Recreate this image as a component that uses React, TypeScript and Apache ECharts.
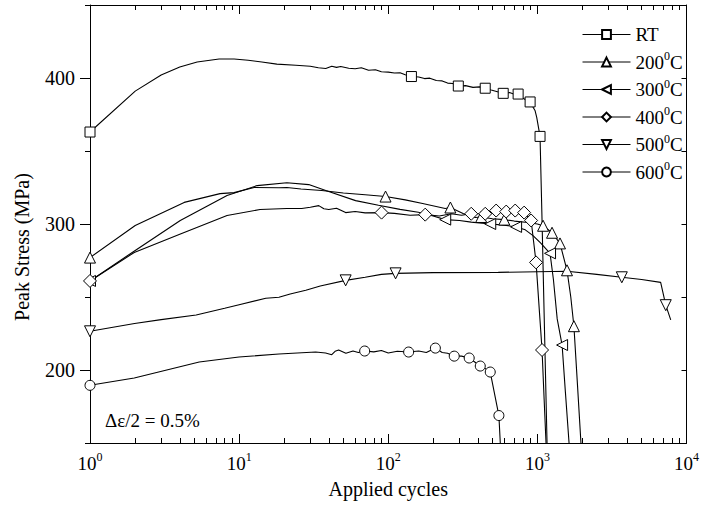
import React, { useEffect, useRef } from 'react';
import * as echarts from 'echarts';

type P = [number, number];

// ---- data (cycles, peak stress MPa) ----
const rtLine: P[] = [[1,363],[2.01,391],[3,402],[4,407.5],[5.23,411],[7.34,413],[9.25,413],[11.5,412.2],[14.2,411],[17.9,409.5],[24,408.7],[30,408],[34,407],[38.1,406.5],[41.8,408],[45,407.3],[48,407.9],[54.3,406.7],[60,406.3],[66,407],[73.8,405.3],[82,405.6],[90,404.3],[100,404],[110,403.4],[120,403.6],[130,402.2],[160,400.7],[175,399.6],[190,399.9],[210,398.3],[230,398],[250,396.5],[270,396.2],[330,394.8],[370,393.6],[410,393.9],[490,391.8],[540,390.6],[650,390],[700,388.8],[790,386.5],[840,385],[930,380.5],[966,377.5],[990,373],[1075,302],[1109,240],[1161,150]];
const rtMarks: P[] = [[1,363],[143,401],[295,394.5],[447,393],[590,389.5],[743,389],[894,383.6],[1042,360]];

const t200Line: P[] = [[1,277],[2.01,299],[4.28,314.8],[7.45,320.8],[9.25,321.5],[12.6,325],[18.5,324.8],[20.9,325],[26,324],[35.8,322.9],[50,321.2],[70,320],[130,316.5],[170,314],[241,310.6],[320,307],[383,304.4],[500,303.6],[700,302],[866,301],[1000,300],[1675,250],[1857,190],[1960,150]];
const t200Marks: P[] = [[1,277],[95.9,318.8],[261,311.3],[420,304.8],[600,303],[1092,298.8],[1254,294],[1418,286.7],[1580,268.3],[1758,230]];

const t300Line: P[] = [[1,261],[2.01,281.9],[4.03,302.4],[8.3,319.5],[13.2,326.3],[20.9,328.3],[29.3,327],[38.1,322.9],[60.4,316],[86,312.8],[120,310],[159,308],[200,305.5],[300,302.4],[360,301.3],[600,299.2],[830,296],[935,292],[1050,287],[1281,262],[1358,235],[1541,185],[1631,150]];
const t300Marks: P[] = [[1,261],[241,303],[483,300],[720,298],[1216,279.9],[1465,217.1]];

const t400Line: P[] = [[1,261],[1.98,280.5],[4,293],[8.3,305.8],[13.8,309.9],[20.9,310.6],[26.3,310.6],[30,311.5],[34.2,312.6],[37,310.4],[39.9,309.9],[45,310.8],[51.8,307.8],[60,308.6],[70,307.6],[110,307.3],[140,306],[220,305.5],[265,307],[310,306],[1032,240],[1110,180],[1143,150]];
const t400Marks: P[] = [[1,261],[90.2,307.8],[177,306.4],[360,307],[447,307],[529,309.2],[618,308.5],[710,309.2],[815,307.8],[908,302.4],[980,273.7],[1075,213.7]];

const t500Line: P[] = [[1.99,231.9],[3,234.5],[5.15,237.7],[8,242.3],[10,244.7],[15.1,249.1],[18.5,249.8],[22,252],[28,254.6],[35,257.5],[70,263.5],[90,265.5],[200,266.7],[546,266.9],[1580,267.6],[2500,265.5],[5000,262],[6710,260],[7840,234.3]];
const t500Marks: P[] = [[1,226.5],[51.8,261.4],[112,266.2],[3683,263.5],[7260,244.4]];

const t600Line: P[] = [[1.98,194.5],[5.4,205.5],[9.98,208.9],[18.5,211],[32.6,212.3],[38,211.6],[41.8,210.5],[44,212.8],[46.5,213.7],[52,211.5],[58,213],[63,212],[80,212.4],[90,213.3],[100,211.6],[115,212.8],[160,213],[180,212],[230,212],[250,211.5],[310,209.5],[380,205.5],[450,200.8],[564,150]];
const t600Marks: P[] = [[1,189.5],[69.5,213],[137,212.3],[207,215],[277,209.5],[349,208.2],[414,202.7],[483,198.6],[552,168.8]];

const seriesNames = ['RT', '200°C', '300°C', '400°C', '500°C', '600°C'];
const xMajorTicks = [1, 10, 100, 1000, 10000];
const xMinorTicks = [2,3,4,5,6,7,8,9,20,30,40,50,60,70,80,90,200,300,400,500,600,700,800,900,2000,3000,4000,5000,6000,7000,8000,9000];
const yLabelValues = [200, 300, 400];
const annotation = 'Δε/2 = 0.5%';
const xTitle = 'Applied cycles';
const yTitle = 'Peak Stress (MPa)';

const FONT = 'Liberation Serif';

const merge = (line: P[], marks: P[]) => {
  const items: any[] = [
    ...line.map((p) => ({ value: p, symbol: 'none' })),
    ...marks.map((p) => ({ value: p })),
  ];
  items.sort((a, b) => a.value[0] - b.value[0]);
  return items;
};

const TRI_LEFT = 'path://M0,5L10,0L10,10Z';
const TRI_DOWN = 'path://M0,0L10,0L5,10Z';

export default function App() {
  const ref = useRef<HTMLDivElement>(null);
  useEffect(() => {
    if (!ref.current) return;
    const chart = echarts.init(ref.current, undefined, { renderer: 'svg' });
    const lineStyle = { color: '#000', width: 1 };
    const mk = (name: string, line: P[], marks: P[], symbol: string, size: number) => ({
      type: 'line',
      name,
      data: merge(line, marks),
      symbol,
      symbolSize: size,
      showAllSymbol: true,
      xAxisIndex: 0,
      yAxisIndex: 0,
      lineStyle: { color: '#000', width: 1.1 },
      itemStyle: { color: '#fff', borderColor: '#000', borderWidth: 1 },
      emphasis: { disabled: true },
    });
    const supRich = {
      b: { fontFamily: FONT, fontSize: 19, color: '#000', lineHeight: 24 },
      s: { fontFamily: FONT, fontSize: 12, color: '#000', lineHeight: 12, verticalAlign: 'top' },
    };
    const logBase: any = { type: 'log', logBase: 10, min: 1, max: 10000, splitLine: { show: false } };
    const option: any = {
      animation: false,
      backgroundColor: '#fff',
      textStyle: { fontFamily: FONT },
      grid: { left: 90, right: 13, top: 5, bottom: 79, containLabel: false },
      xAxis: [
        {
          ...logBase,
          position: 'bottom',
          name: xTitle,
          nameLocation: 'middle',
          nameGap: 36,
          nameTextStyle: { fontFamily: FONT, fontSize: 20, color: '#000' },
          axisLine: { show: true, lineStyle },
          axisTick: { show: true, inside: true, length: 9, lineStyle, customValues: xMajorTicks },
          axisLabel: {
            margin: 8,
            customValues: xMajorTicks,
            formatter: (v: number) => `{b|10}{s|${Math.round(Math.log10(v))}}`,
            rich: supRich,
          },
        },
        {
          ...logBase,
          position: 'bottom',
          axisLine: { show: false },
          axisTick: { show: true, inside: true, length: 5, lineStyle, customValues: xMinorTicks },
          axisLabel: { show: false },
        },
        {
          ...logBase,
          position: 'top',
          axisLine: { show: true, lineStyle },
          axisTick: { show: true, inside: true, length: 9, lineStyle, customValues: xMajorTicks },
          axisLabel: { show: false },
        },
        {
          ...logBase,
          position: 'top',
          axisLine: { show: false },
          axisTick: { show: true, inside: true, length: 5, lineStyle, customValues: xMinorTicks },
          axisLabel: { show: false },
        },
      ],
      yAxis: [
        {
          type: 'value', min: 150, max: 450, interval: 50, position: 'left',
          splitLine: { show: false },
          axisLine: { show: true, lineStyle },
          axisTick: { show: true, inside: false, length: 5, lineStyle },
          axisLabel: {
            margin: 15,
            fontFamily: FONT, fontSize: 20, color: '#000',
            formatter: (v: number) => (yLabelValues.includes(v) ? String(v) : ''),
          },
        },
        {
          type: 'value', min: 150, max: 450, position: 'left',
          splitLine: { show: false },
          axisLine: { show: false },
          axisTick: { show: true, inside: false, length: 10, lineStyle, customValues: yLabelValues },
          axisLabel: { show: false },
        },
        {
          type: 'value', min: 150, max: 450, interval: 50, position: 'right',
          splitLine: { show: false },
          axisLine: { show: true, lineStyle },
          axisTick: { show: true, inside: true, length: 5, lineStyle },
          axisLabel: { show: false },
        },
      ],
      legend: {
        orient: 'vertical',
        left: 577,
        top: 20,
        itemWidth: 48,
        itemHeight: 11,
        itemGap: 6,
        selectedMode: false,
        data: seriesNames,
        lineStyle: { width: 1 },
        formatter: (name: string) =>
          name === 'RT' ? '{t|RT}' : `{t|${name.replace('°C', '')}}{s|0}{t|C}`,
        textStyle: {
          fontFamily: FONT, fontSize: 19, color: '#000',
          rich: {
            t: { fontFamily: FONT, fontSize: 19, color: '#000', lineHeight: 24 },
            s: { fontFamily: FONT, fontSize: 12, color: '#000', lineHeight: 12, verticalAlign: 'top' },
          },
        },
      },
      graphic: [
        {
          type: 'text', x: 105, y: 420,
          style: { text: annotation, fontFamily: FONT, fontSize: 19, fill: '#000', verticalAlign: 'middle' },
        },
        {
          type: 'text', x: 22, y: 247, rotation: Math.PI / 2,
          style: { text: yTitle, fontFamily: FONT, fontSize: 20, fill: '#000', align: 'center', verticalAlign: 'middle' },
        },
      ],
      series: [
        mk('RT', rtLine, rtMarks, 'rect', 10),
        mk('200°C', t200Line, t200Marks, 'triangle', 11),
        mk('300°C', t300Line, t300Marks, TRI_LEFT, 11),
        mk('400°C', t400Line, t400Marks, 'diamond', 13),
        mk('500°C', t500Line, t500Marks, TRI_DOWN, 11),
        mk('600°C', t600Line, t600Marks, 'circle', 10),
      ],
    };
    chart.setOption(option);
    return () => chart.dispose();
  }, []);
  return (
    <div
      ref={ref}
      style={{ position: 'fixed', left: 0, top: 0, width: 702, height: 522, background: '#fff' }}
    />
  );
}
